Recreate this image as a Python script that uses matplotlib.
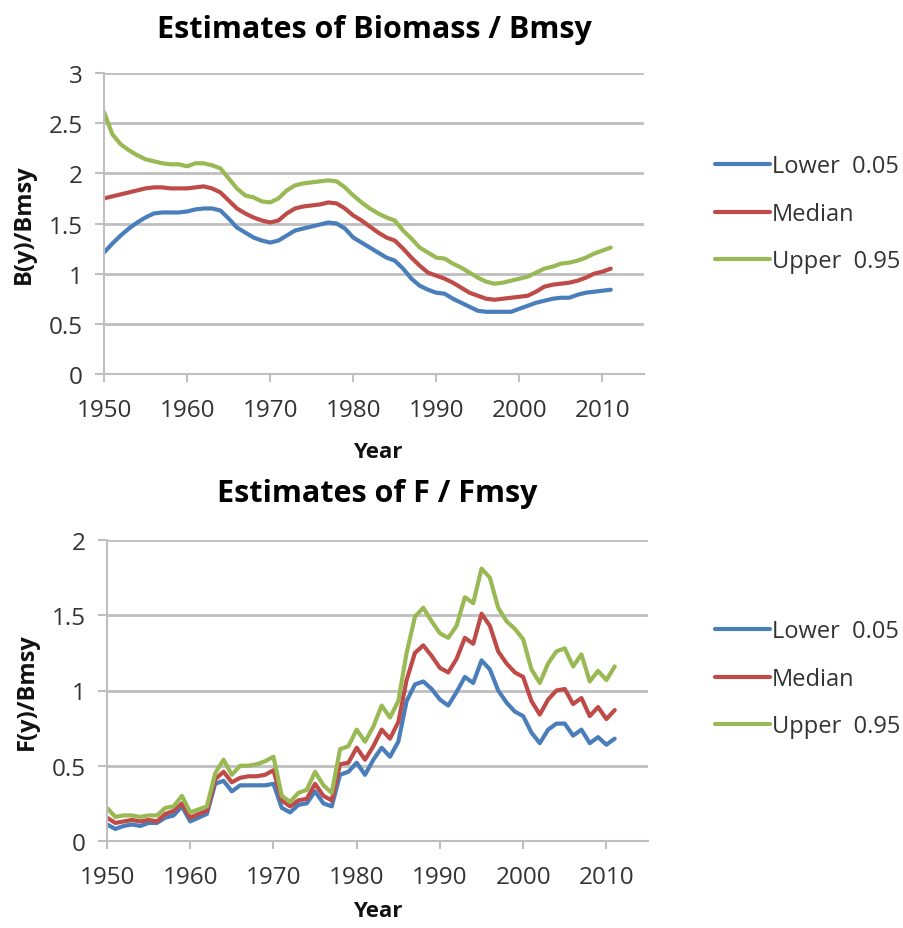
import numpy as np
import matplotlib
matplotlib.use('Agg')
import matplotlib.pyplot as plt

plt.rcParams['font.family'] = ['Open Sans', 'DejaVu Sans']

years = np.arange(1950, 2012)

# Biomass / Bmsy
b_lower = [1.21, 1.30, 1.38, 1.45, 1.51, 1.56, 1.60, 1.61, 1.61, 1.61,
           1.62, 1.64, 1.65, 1.65, 1.63, 1.55, 1.46, 1.41, 1.36, 1.33,
           1.31, 1.33, 1.38, 1.43, 1.45, 1.47, 1.49, 1.51, 1.50, 1.45,
           1.36, 1.31, 1.26, 1.21, 1.16, 1.13, 1.05, 0.95, 0.88, 0.84,
           0.81, 0.80, 0.75, 0.71, 0.67, 0.63, 0.62, 0.62, 0.62, 0.62,
           0.65, 0.68, 0.71, 0.73, 0.75, 0.76, 0.76, 0.79, 0.81, 0.82,
           0.83, 0.84]
b_median = [1.75, 1.77, 1.79, 1.81, 1.83, 1.85, 1.86, 1.86, 1.85, 1.85,
            1.85, 1.86, 1.87, 1.85, 1.81, 1.73, 1.65, 1.60, 1.56, 1.53,
            1.51, 1.53, 1.60, 1.65, 1.67, 1.68, 1.69, 1.71, 1.70, 1.65,
            1.58, 1.53, 1.47, 1.41, 1.36, 1.33, 1.25, 1.16, 1.08, 1.01,
            0.98, 0.95, 0.91, 0.86, 0.81, 0.78, 0.75, 0.74, 0.75, 0.76,
            0.77, 0.78, 0.82, 0.87, 0.89, 0.90, 0.91, 0.93, 0.96, 1.00,
            1.02, 1.05]
b_upper = [2.61, 2.39, 2.29, 2.23, 2.18, 2.14, 2.12, 2.10, 2.09, 2.09,
           2.07, 2.10, 2.10, 2.08, 2.05, 1.95, 1.85, 1.78, 1.76, 1.72,
           1.71, 1.75, 1.83, 1.88, 1.90, 1.91, 1.92, 1.93, 1.92, 1.86,
           1.78, 1.71, 1.65, 1.60, 1.56, 1.53, 1.43, 1.35, 1.26, 1.21,
           1.16, 1.15, 1.10, 1.06, 1.01, 0.96, 0.92, 0.90, 0.91, 0.93,
           0.95, 0.97, 1.01, 1.05, 1.07, 1.10, 1.11, 1.13, 1.16, 1.20,
           1.23, 1.26]

# F / Fmsy
f_lower = [0.11, 0.08, 0.10, 0.11, 0.10, 0.12, 0.12, 0.155, 0.17, 0.23,
           0.13, 0.155, 0.18, 0.38, 0.40, 0.33, 0.37, 0.37, 0.37, 0.37,
           0.38, 0.22, 0.19, 0.24, 0.25, 0.33, 0.25, 0.23, 0.44, 0.46,
           0.52, 0.44, 0.54, 0.62, 0.56, 0.66, 0.93, 1.04, 1.06, 1.01,
           0.94, 0.90, 0.99, 1.09, 1.05, 1.20, 1.14, 1.00, 0.92, 0.86,
           0.83, 0.72, 0.65, 0.74, 0.78, 0.78, 0.70, 0.74, 0.65, 0.69,
           0.64, 0.68]
f_median = [0.155, 0.12, 0.13, 0.14, 0.13, 0.14, 0.13, 0.18, 0.20, 0.25,
            0.155, 0.18, 0.20, 0.41, 0.46, 0.39, 0.42, 0.43, 0.43, 0.44,
            0.47, 0.27, 0.23, 0.27, 0.28, 0.38, 0.30, 0.27, 0.51, 0.52,
            0.62, 0.54, 0.63, 0.74, 0.68, 0.79, 1.07, 1.25, 1.30, 1.23,
            1.15, 1.12, 1.21, 1.35, 1.31, 1.51, 1.43, 1.26, 1.18, 1.12,
            1.09, 0.93, 0.84, 0.94, 1.00, 1.01, 0.91, 0.95, 0.83, 0.89,
            0.81, 0.87]
f_upper = [0.22, 0.16, 0.17, 0.17, 0.16, 0.17, 0.17, 0.22, 0.23, 0.30,
           0.19, 0.21, 0.23, 0.45, 0.54, 0.44, 0.50, 0.50, 0.51, 0.53,
           0.56, 0.30, 0.26, 0.32, 0.34, 0.46, 0.37, 0.32, 0.61, 0.63,
           0.74, 0.66, 0.76, 0.90, 0.82, 0.93, 1.25, 1.49, 1.55, 1.46,
           1.38, 1.35, 1.43, 1.62, 1.58, 1.81, 1.75, 1.55, 1.46, 1.41,
           1.34, 1.14, 1.05, 1.18, 1.26, 1.28, 1.16, 1.24, 1.06, 1.13,
           1.07, 1.16]

labels = ['Lower  0.05', 'Median', 'Upper  0.95']
colors = ['#4A7EBB', '#BE4B48', '#98B954']
grid_c = '#BFBFBF'
text_c = '#333333'

fig = plt.figure(figsize=(9.04, 9.29), dpi=100)
W, H = 904, 929


def make_panel(rect, series, ylim, yticks, ylabel, ylabel_x, title, title_y, year_y, leg_top):
    l, t, r, b = rect
    ax = fig.add_axes([l / W, 1 - b / H, (r - l) / W, (b - t) / H])
    for s, c, lab in zip(series, colors, labels):
        ax.plot(years, s, color=c, lw=3.0, label=lab, solid_capstyle='round')
    ax.set_xlim(1950, 2015)
    ax.set_ylim(*ylim)
    ax.set_xticks(np.arange(1950, 2011, 10))
    ax.set_yticks(yticks)
    ax.set_yticklabels([f'{v:g}' for v in yticks])
    ax.grid(axis='y', color=grid_c, lw=2)
    ax.set_axisbelow(True)
    for side in ['top', 'right']:
        ax.spines[side].set_visible(False)
    for side in ['left', 'bottom']:
        ax.spines[side].set_color(grid_c)
        ax.spines[side].set_linewidth(1.5)
    ax.tick_params(axis='both', colors=grid_c, labelcolor=text_c, labelsize=17.5,
                   width=1.5)
    ax.tick_params(axis='y', length=6.5, pad=9)
    ax.tick_params(axis='x', length=6, pad=11)
    ax.set_ylabel(ylabel, fontsize=17, fontweight='bold', color='#111111')
    ax.yaxis.set_label_coords((ylabel_x - l) / (r - l), 0.5)
    fig.text(((l + r) / 2 - 0) / W, 1 - title_y / H, title, ha='center', va='center',
             fontsize=22, fontweight='bold', color='black')
    fig.text(378 / W, 1 - year_y / H, 'Year', ha='center', va='center',
             fontsize=16, fontweight='bold', color='#111111')
    ax.legend(loc='upper left', bbox_to_anchor=(694 / W, 1 - leg_top / H),
              bbox_transform=fig.transFigure, frameon=False, fontsize=17,
              handlelength=2.3, handletextpad=0.1, labelspacing=1.0,
              labelcolor=text_c)
    return ax


make_panel((104, 74, 644, 375), [b_lower, b_median, b_upper], (0, 3),
           [0, 0.5, 1, 1.5, 2, 2.5, 3], 'B(y)/Bmsy', 36, 'Estimates of Biomass / Bmsy',
           30, 452, 134)
make_panel((107, 541, 648, 842), [f_lower, f_median, f_upper], (0, 2),
           [0, 0.5, 1, 1.5, 2], 'F(y)/Bmsy', 39, 'Estimates of F / Fmsy',
           494, 912, 599)

fig.savefig('out.png', dpi=100)
